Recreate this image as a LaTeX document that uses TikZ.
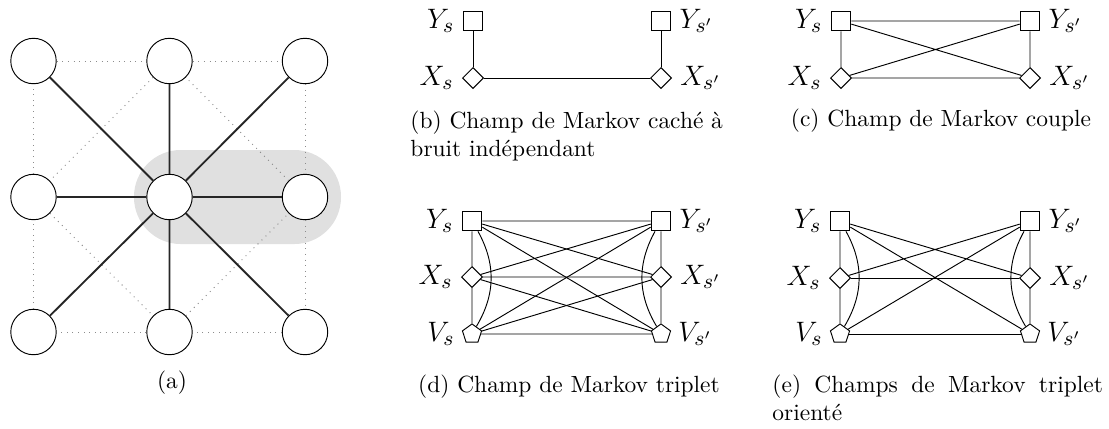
\documentclass[tikz,border=0pt]{standalone}
\usetikzlibrary{shapes.geometric}
\begin{document}
\begin{tikzpicture}[
x=0.015cm,y=-0.015cm,
site/.style={circle,draw,fill=white,minimum size=19.4pt,inner sep=0pt},
obs/.style={rectangle,draw,fill=white,minimum size=8.4pt,inner sep=0pt},
lab/.style={diamond,draw,fill=white,minimum size=9pt,inner sep=0pt},
aux/.style={regular polygon,regular polygon sides=5,draw,fill=white,minimum size=8.6pt,inner sep=0pt},
spoke/.style={thick,black!85},
grid/.style={black!45,dotted},
every label/.style={font=\fontsize{13}{15}\selectfont},
legend/.style={font=\normalsize,anchor=base}
]
\useasboundingbox (0,0) rectangle (1109,428);

% (a) voisinage
\fill[black!12,rounded corners=0.7cm] (134,150) rectangle (341,244);
\node[site] (a1) at (33.5,61) {};
\node[site] (a2) at (169.5,61) {};
\node[site] (a3) at (305,61) {};
\node[site] (a4) at (33.5,197) {};
\node[site] (a5) at (169.5,197) {};
\node[site] (a6) at (305,197) {};
\node[site] (a7) at (33.5,332) {};
\node[site] (a8) at (169.5,332) {};
\node[site] (a9) at (305,332) {};
\draw[grid] (a1) -- (a2) -- (a3) -- (a6) -- (a9) -- (a8) -- (a7) -- (a4) -- (a1);
\draw[grid] (a2) -- (a4) -- (a8) -- (a6) -- (a2);
\draw[spoke] (a5) -- (a1) (a5) -- (a2) (a5) -- (a3) (a5) -- (a4)
             (a5) -- (a6) (a5) -- (a7) (a5) -- (a8) (a5) -- (a9);
\node[legend] (capa) at (172,388) {(a)};

% (b) bruit independant
\node[obs,label={left:$Y_s$}] (bY) at (473,21) {};
\node[lab,label={left:$X_s$}] (bX) at (473,78) {};
\node[obs,label={right:$Y_{s'}$}] (bY2) at (661,21) {};
\node[lab,label={right:$X_{s'}$}] (bX2) at (661,78) {};
\draw (bY) -- (bX) -- (bX2) -- (bY2);
\node[anchor=north west,inner sep=0pt,align=left] (capb) at (410,110.5)
  {(b) Champ de Markov caché à\\bruit indépendant};

% (c) couple
\node[obs,label={left:$Y_s$}] (cY) at (841,21) {};
\node[lab,label={left:$X_s$}] (cX) at (841,78) {};
\node[obs,label={right:$Y_{s'}$}] (cY2) at (1030,21) {};
\node[lab,label={right:$X_{s'}$}] (cX2) at (1030,78) {};
\draw (cY) -- (cX) -- (cX2) -- (cY2) -- (cY) -- (cX2) (cX) -- (cY2);
\node[legend] (capc) at (941,126) {(c) Champ de Markov couple};

% (d) triplet
\node[obs,label={left:$Y_s$}] (dY) at (472,221) {};
\node[lab,label={left:$X_s$}] (dX) at (472,277) {};
\node[aux,label={left:$V_s$}] (dV) at (472,334) {};
\node[obs,label={right:$Y_{s'}$}] (dY2) at (661,221) {};
\node[lab,label={right:$X_{s'}$}] (dX2) at (661,277) {};
\node[aux,label={right:$V_{s'}$}] (dV2) at (661,334) {};
\draw (dY) -- (dX) -- (dV) (dY) to[bend left=30] (dV);
\draw (dY2) -- (dX2) -- (dV2) (dY2) to[bend right=30] (dV2);
\draw (dY) -- (dY2) (dY) -- (dX2) (dY) -- (dV2);
\draw (dX) -- (dY2) (dX) -- (dX2) (dX) -- (dV2);
\draw (dV) -- (dY2) (dV) -- (dX2) (dV) -- (dV2);
\node[legend] (capd) at (569,392) {(d) Champ de Markov triplet};

% (e) triplet oriente
\node[obs,label={left:$Y_s$}] (eY) at (840,221) {};
\node[lab,label={left:$X_s$}] (eX) at (840,278) {};
\node[aux,label={left:$V_s$}] (eV) at (840,334) {};
\node[obs,label={right:$Y_{s'}$}] (eY2) at (1030,221) {};
\node[lab,label={right:$X_{s'}$}] (eX2) at (1030,278) {};
\node[aux,label={right:$V_{s'}$}] (eV2) at (1030,334) {};
\draw (eY) -- (eX) -- (eV) (eY) to[bend left=30] (eV);
\draw (eY2) -- (eX2) -- (eV2) (eY2) to[bend right=30] (eV2);
\draw (eX) -- (eX2) (eV) -- (eV2);
\draw (eY) -- (eX2) (eY) -- (eV2) (eY2) -- (eX) (eY2) -- (eV);
\node[anchor=north west,inner sep=0pt,text width=141pt,align=justify] (cape) at (772,374.4)
  {(e) Champs de Markov triplet orienté};
\end{tikzpicture}
\end{document}
